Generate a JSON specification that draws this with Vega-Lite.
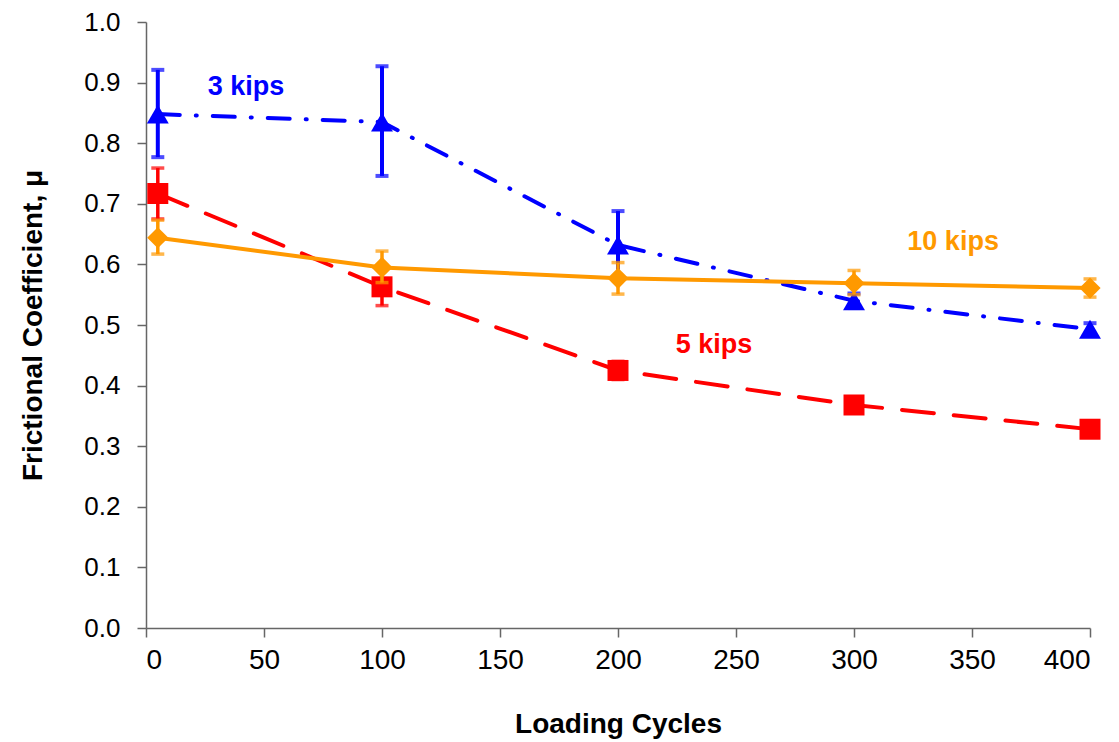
{
  "$schema": "https://vega.github.io/schema/vega-lite/v6.json",
  "width": 944,
  "height": 606,
  "autosize": {"type": "none"},
  "padding": {"left": 146, "top": 22, "right": 29, "bottom": 114},
  "background": "white",
  "config": {
    "view": {"stroke": null},
    "font": "Liberation Sans",
    "axis": {"grid": false, "domainColor": "#666666", "tickColor": "#666666", "domainWidth": 1.5, "tickWidth": 1.5, "labelFont": "Liberation Sans", "titleFont": "Liberation Sans", "labelColor": "black", "titleColor": "black"}
  },
  "datasets": {
    "pts": [
      {"series": "3 kips", "x": 5, "y": 0.848, "lo": 0.777, "hi": 0.921},
      {"series": "3 kips", "x": 100, "y": 0.835, "lo": 0.746, "hi": 0.927},
      {"series": "3 kips", "x": 200, "y": 0.632, "lo": 0.576, "hi": 0.688},
      {"series": "3 kips", "x": 300, "y": 0.54, "lo": 0.528, "hi": 0.552},
      {"series": "3 kips", "x": 400, "y": 0.493, "lo": 0.483, "hi": 0.503},
      {"series": "5 kips", "x": 5, "y": 0.717, "lo": 0.675, "hi": 0.759},
      {"series": "5 kips", "x": 100, "y": 0.563, "lo": 0.532, "hi": 0.595},
      {"series": "5 kips", "x": 200, "y": 0.425, "lo": 0.41, "hi": 0.44},
      {"series": "5 kips", "x": 300, "y": 0.368, "lo": 0.358, "hi": 0.378},
      {"series": "5 kips", "x": 400, "y": 0.328, "lo": 0.32, "hi": 0.336},
      {"series": "10 kips", "x": 5, "y": 0.644, "lo": 0.617, "hi": 0.673},
      {"series": "10 kips", "x": 100, "y": 0.595, "lo": 0.57, "hi": 0.622},
      {"series": "10 kips", "x": 200, "y": 0.577, "lo": 0.551, "hi": 0.603},
      {"series": "10 kips", "x": 300, "y": 0.569, "lo": 0.55, "hi": 0.59},
      {"series": "10 kips", "x": 400, "y": 0.561, "lo": 0.546, "hi": 0.576}
    ],
    "labels": [
      {"series": "3 kips", "x": 42.4, "y": 0.893},
      {"series": "5 kips", "x": 240.7, "y": 0.467},
      {"series": "10 kips", "x": 342, "y": 0.637}
    ]
  },
  "encoding": {
    "color": {"field": "series", "type": "nominal", "scale": {"domain": ["3 kips", "5 kips", "10 kips"], "range": ["#0000FF", "#FF0000", "#FF9900"]}, "legend": null}
  },
  "layer": [
    {
      "data": {"name": "pts"},
      "transform": [{"filter": "datum.series == '3 kips'"}],
      "layer": [
        {
          "mark": {"type": "line", "strokeWidth": 4, "interpolate": "linear", "strokeCap": "round", "strokeDash": [22, 16, 1, 16]},
          "encoding": {
            "x": {"field": "x", "type": "quantitative", "scale": {"domain": [0, 400]}, "axis": {"values": [0,50,100,150,200,250,300,350,400], "title": "Loading Cycles", "labelFontSize": 28, "titleFontSize": 28, "titleFontWeight": "bold", "tickSize": 9, "labelPadding": 9, "titlePadding": 36}},
            "y": {"field": "y", "type": "quantitative", "scale": {"domain": [0, 1]}, "axis": {"values": [0,0.1,0.2,0.3,0.4,0.5,0.6,0.7,0.8,0.9,1.0], "format": ".1f", "title": "Frictional Coefficient, μ", "labelFontSize": 26, "titleFontSize": 28, "titleFontWeight": "bold", "tickSize": 9, "labelPadding": 17, "titlePadding": 36}}
          }
        },
        {
          "mark": {"type": "rule", "strokeWidth": 4},
          "encoding": {"x": {"field": "x", "type": "quantitative"}, "y": {"field": "lo", "type": "quantitative"}, "y2": {"field": "hi"}}
        },
        {
          "mark": {"type": "tick", "orient": "horizontal", "size": 13, "thickness": 4},
          "encoding": {"x": {"field": "x", "type": "quantitative"}, "y": {"field": "lo", "type": "quantitative"}}
        },
        {
          "mark": {"type": "tick", "orient": "horizontal", "size": 13, "thickness": 4},
          "encoding": {"x": {"field": "x", "type": "quantitative"}, "y": {"field": "hi", "type": "quantitative"}}
        },
        {
          "mark": {"type": "point", "filled": true, "opacity": 1, "size": 480, "shape": "triangle-up"},
          "encoding": {"x": {"field": "x", "type": "quantitative"}, "y": {"field": "y", "type": "quantitative"}}
        }
      ]
    },
    {
      "data": {"name": "pts"},
      "transform": [{"filter": "datum.series == '5 kips'"}],
      "layer": [
        {
          "mark": {"type": "line", "strokeWidth": 4, "interpolate": "linear", "strokeCap": "round", "strokeDash": [32, 20]},
          "encoding": {"x": {"field": "x", "type": "quantitative"}, "y": {"field": "y", "type": "quantitative"}}
        },
        {
          "mark": {"type": "rule", "strokeWidth": 3.5},
          "encoding": {"x": {"field": "x", "type": "quantitative"}, "y": {"field": "lo", "type": "quantitative"}, "y2": {"field": "hi"}}
        },
        {
          "mark": {"type": "tick", "orient": "horizontal", "size": 13, "thickness": 3.5},
          "encoding": {"x": {"field": "x", "type": "quantitative"}, "y": {"field": "lo", "type": "quantitative"}}
        },
        {
          "mark": {"type": "tick", "orient": "horizontal", "size": 13, "thickness": 3.5},
          "encoding": {"x": {"field": "x", "type": "quantitative"}, "y": {"field": "hi", "type": "quantitative"}}
        },
        {
          "mark": {"type": "point", "filled": true, "opacity": 1, "size": 441, "shape": "square"},
          "encoding": {"x": {"field": "x", "type": "quantitative"}, "y": {"field": "y", "type": "quantitative"}}
        }
      ]
    },
    {
      "data": {"name": "pts"},
      "transform": [{"filter": "datum.series == '10 kips'"}],
      "layer": [
        {
          "mark": {"type": "line", "strokeWidth": 4, "interpolate": "linear"},
          "encoding": {"x": {"field": "x", "type": "quantitative"}, "y": {"field": "y", "type": "quantitative"}}
        },
        {
          "mark": {"type": "rule", "strokeWidth": 3.5},
          "encoding": {"x": {"field": "x", "type": "quantitative"}, "y": {"field": "lo", "type": "quantitative"}, "y2": {"field": "hi"}}
        },
        {
          "mark": {"type": "tick", "orient": "horizontal", "size": 13, "thickness": 3.5},
          "encoding": {"x": {"field": "x", "type": "quantitative"}, "y": {"field": "lo", "type": "quantitative"}}
        },
        {
          "mark": {"type": "tick", "orient": "horizontal", "size": 13, "thickness": 3.5},
          "encoding": {"x": {"field": "x", "type": "quantitative"}, "y": {"field": "hi", "type": "quantitative"}}
        },
        {
          "mark": {"type": "point", "filled": true, "opacity": 1, "size": 450, "shape": "diamond"},
          "encoding": {"x": {"field": "x", "type": "quantitative"}, "y": {"field": "y", "type": "quantitative"}}
        }
      ]
    },
    {
      "data": {"name": "labels"},
      "mark": {"type": "text", "fontSize": 27, "fontWeight": "bold", "font": "Liberation Sans"},
      "encoding": {
        "x": {"field": "x", "type": "quantitative"},
        "y": {"field": "y", "type": "quantitative"},
        "text": {"field": "series"}
      }
    }
  ]
}
